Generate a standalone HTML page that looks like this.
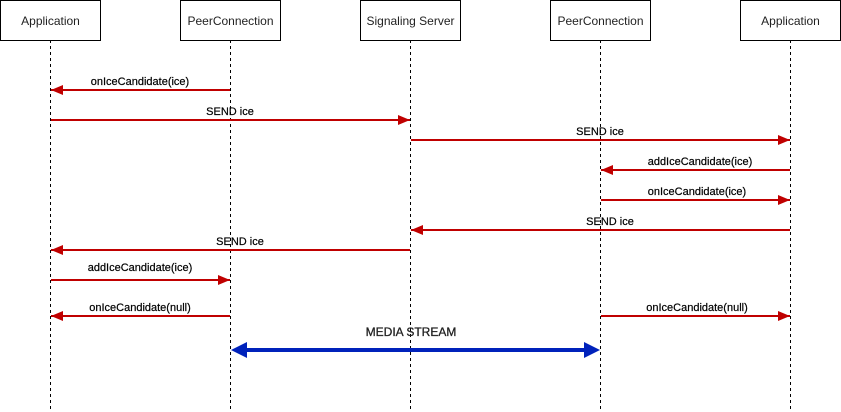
<!DOCTYPE html>
<html><head><style>body{margin:0;background:#fff}svg{display:block}</style></head><body>
<svg width="841" height="412" xmlns="http://www.w3.org/2000/svg" font-family="Liberation Sans, Arial, sans-serif">
<g stroke="#000" stroke-dasharray="3,3" stroke-width="1">
<line x1="50.5" y1="40" x2="50.5" y2="412"/><line x1="230.5" y1="40" x2="230.5" y2="412"/><line x1="410.5" y1="40" x2="410.5" y2="412"/><line x1="600.5" y1="40" x2="600.5" y2="412"/><line x1="790.5" y1="40" x2="790.5" y2="412"/>
</g>
<g fill="#fff" stroke="#000">
<rect x="0.5" y="0.5" width="100" height="40"/><rect x="180.5" y="0.5" width="100" height="40"/><rect x="360.5" y="0.5" width="100" height="40"/><rect x="550.5" y="0.5" width="100" height="40"/><rect x="740.5" y="0.5" width="100" height="40"/>
</g>
<g font-size="12" text-anchor="middle" fill="#222">
<text x="50.5" y="25">Application</text><text x="230.5" y="25">PeerConnection</text><text x="410.5" y="25">Signaling Server</text><text x="600.5" y="25">PeerConnection</text><text x="790.5" y="25">Application</text>
</g>
<defs>
<marker id="r" markerWidth="12" markerHeight="12" refX="12" refY="6" orient="auto" markerUnits="userSpaceOnUse"><path d="M0,1 L12,6 L0,11 Z" fill="#c00000"/></marker>
</defs>
<g stroke="#c00000" stroke-width="2" marker-end="url(#r)">
<line x1="230" y1="90" x2="51" y2="90"/>
<line x1="51" y1="120" x2="410" y2="120"/>
<line x1="411" y1="140" x2="790" y2="140"/>
<line x1="790" y1="170" x2="601" y2="170"/>
<line x1="601" y1="200" x2="790" y2="200"/>
<line x1="790" y1="230" x2="411" y2="230"/>
<line x1="410" y1="250" x2="51" y2="250"/>
<line x1="51" y1="280" x2="230" y2="280"/>
<line x1="230" y1="316" x2="51" y2="316"/>
<line x1="601" y1="316" x2="790" y2="316"/>
</g>
<g font-size="11" text-anchor="middle" fill="#000" stroke="#000" stroke-width="0.2">
<text x="140" y="85">onIceCandidate(ice)</text>
<text x="230" y="115">SEND ice</text>
<text x="600" y="135">SEND ice</text>
<text x="700" y="165">addIceCandidate(ice)</text>
<text x="697" y="195">onIceCandidate(ice)</text>
<text x="610" y="225">SEND ice</text>
<text x="240" y="245">SEND ice</text>
<text x="140" y="271">addIceCandidate(ice)</text>
<text x="140" y="311">onIceCandidate(null)</text>
<text x="697" y="311">onIceCandidate(null)</text>
</g>
<line x1="245" y1="350" x2="585" y2="350" stroke="#0022bb" stroke-width="4"/>
<path d="M231,350 L247,342 L247,358 Z M600,350 L584,342 L584,358 Z" fill="#0022bb"/>
<text x="411" y="336" font-size="12" text-anchor="middle" fill="#222" stroke="#222" stroke-width="0.3">MEDIA STREAM</text>
</svg>
</body></html>
